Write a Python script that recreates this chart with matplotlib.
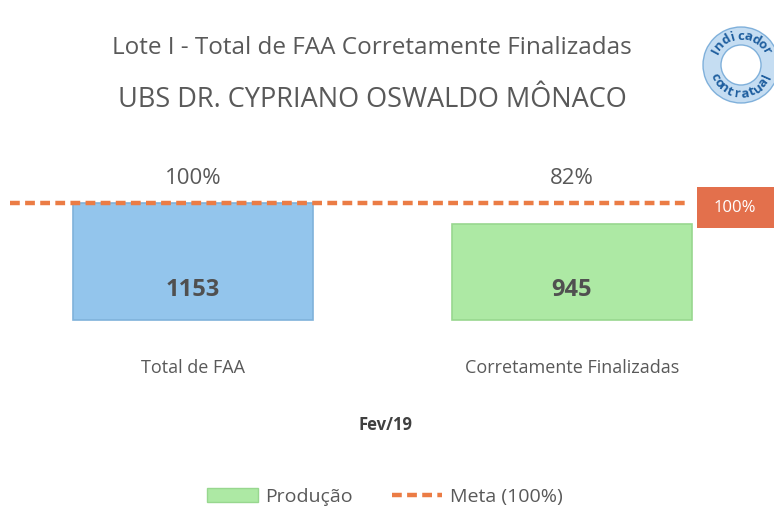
import matplotlib
matplotlib.use("Agg")
import matplotlib.pyplot as plt
from matplotlib.patches import Patch, Rectangle, Circle, Wedge
from matplotlib.lines import Line2D
from matplotlib import font_manager
import numpy as np

# ---- data ----
categories = ["Total de FAA", "Corretamente Finalizadas"]
percent_values = [100, 82]
count_values = [1153, 945]
percent_labels = ["100%", "82%"]
meta_value = 100
period = "Fev/19"
title_line1 = "Lote I - Total de FAA Corretamente Finalizadas"
title_line2 = "UBS DR. CYPRIANO OSWALDO MÔNACO"

names = {f.name for f in font_manager.fontManager.ttflist}
fam = None
for cand in ["Liberation Sans Narrow", "Open Sans", "Lato", "DejaVu Sans"]:
    if cand in names:
        fam = cand
        break
plt.rcParams['font.family'] = [fam, 'DejaVu Sans']

W, H = 774, 516
fig = plt.figure(figsize=(W / 100, H / 100), dpi=100)
fig.patch.set_facecolor("white")

# main axes: px y 160..330, full width
ax = fig.add_axes([0, 1 - 330 / H, 1, 170 / H])
px_per_unit = 1.17
ax.set_ylim(-10 / px_per_unit, 160 / px_per_unit)
ax.set_xlim(-193 / 379, (774 - 193) / 379)
ax.axis("off")

colors = ["#93C5EC", "#ADE9A4"]
edges = ["#7FB2DA", "#98D78F"]
x = np.arange(len(categories))
bars = ax.bar(x, percent_values, width=0.633, color=colors, edgecolor=edges, linewidth=1.2, zorder=2)

# meta line
ax.axhline(meta_value, xmin=10 / W, xmax=690 / W, color="#EB7C45", lw=3.2,
           dashes=(2.2, 1.2), zorder=3)

text_gray = "#595959"
for xi, c, p in zip(x, count_values, percent_labels):
    ax.text(xi, 25.5, f"{c}", ha="center", va="center", fontsize=17, fontweight="bold",
            color="#505050", zorder=4)
    ax.text(xi, 121, p, ha="center", va="center", fontsize=16, color=text_gray)

# category labels
for xi, cat in zip(x, categories):
    fx = (193 + 379 * xi) / W
    fig.text(fx, 1 - 368 / H, cat, ha="center", va="center", fontsize=13, color=text_gray)

fig.text(385 / W, 1 - 425 / H, period, ha="center", va="center", fontsize=12,
         fontweight="bold", color="#404040")

# titles
fig.text(372 / W, 1 - 48 / H, title_line1, ha="center", va="center", fontsize=17.5,
         color=text_gray)
fig.text(372 / W, 1 - 100 / H, title_line2, ha="center", va="center", fontsize=19.5,
         color=text_gray)

# overlay in pixel coordinates (for decorations)
ov = fig.add_axes([0, 0, 1, 1], zorder=5)
ov.set_xlim(0, W)
ov.set_ylim(H, 0)
ov.axis("off")

# red box for meta label
ov.add_patch(Rectangle((697, 187), 77, 41, facecolor="#E3704C", edgecolor="none"))
ov.text(735, 208, f"{meta_value}%", ha="center", va="center", fontsize=12, color="white")

# decorative badge
cx, cy = 741, 65
ov.add_patch(Wedge((cx, cy), 38, 0, 360, width=18, facecolor="#BBD8F0", edgecolor="#6FA6D6",
                   lw=1.0, alpha=0.85))
word1 = "Indicador"
angs1 = np.linspace(208, 332, len(word1))
for ch, a in zip(word1, angs1):
    r = 29
    xx = cx + r * np.cos(np.radians(a))
    yy = cy + r * np.sin(np.radians(a))
    ov.text(xx, yy, ch, ha="center", va="center", fontsize=9.5, color="#1F5F9F",
            rotation=-(a + 90) % 360, rotation_mode="anchor", fontweight="bold")
word2 = "contratual"
angs2 = np.linspace(156, 24, len(word2))
for ch, a in zip(word2, angs2):
    r = 29
    xx = cx + r * np.cos(np.radians(a))
    yy = cy + r * np.sin(np.radians(a))
    ov.text(xx, yy, ch, ha="center", va="center", fontsize=9.5, color="#1F5F9F",
            rotation=-(a - 90) % 360, rotation_mode="anchor", fontweight="bold")

# legend
handles = [Patch(facecolor="#ADE9A4", edgecolor="#98D78F", label="Produção"),
           Line2D([0], [0], color="#EB7C45", lw=3.2, dashes=(2.2, 1.2), label="Meta (100%)")]
fig.legend(handles=handles, loc="center", bbox_to_anchor=(385 / W, 1 - 497 / H), ncol=2,
           frameon=False, fontsize=14, labelcolor=text_gray, handlelength=2.6,
           columnspacing=2.0, handletextpad=0.4)

fig.savefig("out.png", dpi=100, facecolor="white")
